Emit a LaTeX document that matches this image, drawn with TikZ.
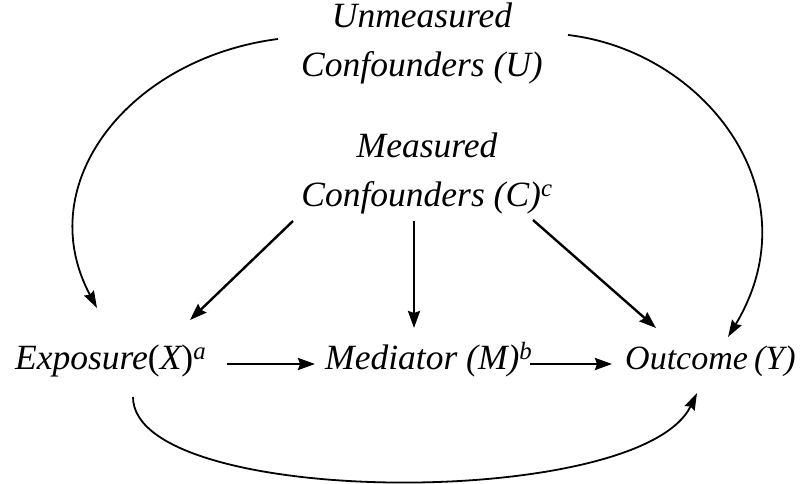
\documentclass[tikz,border=0pt]{standalone}
\usepackage{fontspec}
\setmainfont{Liberation Serif}
\usetikzlibrary{arrows.meta}

\begin{document}
\begin{tikzpicture}[x=1pt, y=1pt,
    var/.style={inner sep=0pt, align=center,
      font=\fontsize{35.5}{49}\selectfont\itshape},
    link/.style={line width=2.4pt, -{Stealth[length=17pt, width=12pt, inset=2pt]}},
    curved/.style={line width=1.8pt, -{Stealth[length=17pt, width=11pt, inset=2pt]}}]

  \useasboundingbox (0,0) rectangle (800,483);

  % ============================================================
  % Variables (base = baseline of the last line)
  % ============================================================
  \node[var, anchor=base] (unmeas) at (422,406) {Unmeasured\\Confounders (U)};
  \node[var, anchor=base] (conf)   at (427,277) {Measured\\Confounders (C)\textsuperscript{c}};

  \node[var, anchor=base west] (expo) at (15,114)
        {Exposure{\upshape(}X{\upshape)}\textsuperscript{a}};
  \node[var, anchor=base west] (medi) at (325,114) {Mediator (M)\textsuperscript{b}};
  \node[var, anchor=base west, font=\fontsize{34}{49}\selectfont\itshape]
        (outc) at (625,114) {Outcome\hspace{0.18em}(Y)};

  % ============================================================
  % Measured confounders -> X, M, Y
  % ============================================================
  \draw[link] ([shift={(-134,-15)}]conf.base) -- ([shift={(175,49)}]expo.base west);
  \draw[link] ([shift={(-13,-15)}]conf.base)  -- ([shift={(89,41)}]medi.base west);
  \draw[link] ([shift={(106,-14)}]conf.base)  -- ([shift={(31,41)}]outc.base west);

  % causal chain X -> M -> Y
  \draw[link] ([shift={(212,5)}]expo.base west) -- ([shift={(-10,5)}]medi.base west);
  \draw[link] ([shift={(205,5)}]medi.base west) -- ([shift={(-13,5)}]outc.base west);

  % ============================================================
  % Unmeasured confounders -> X and Y (curved)
  % ============================================================
  \draw[curved] ([shift={(-144,38)}]unmeas.base)
        .. controls (130,425) and (30,300) .. ([shift={(82,61)}]expo.base west);
  \draw[curved] ([shift={(146,42)}]unmeas.base)
        .. controls (705,432) and (815,290) .. ([shift={(103,32)}]outc.base west);

  % direct effect X -> Y
  \draw[curved] ([shift={(118,-28)}]expo.base west)
        .. controls (133,-25) and (640,-28) .. ([shift={(72,-24)}]outc.base west);

\end{tikzpicture}
\end{document}
